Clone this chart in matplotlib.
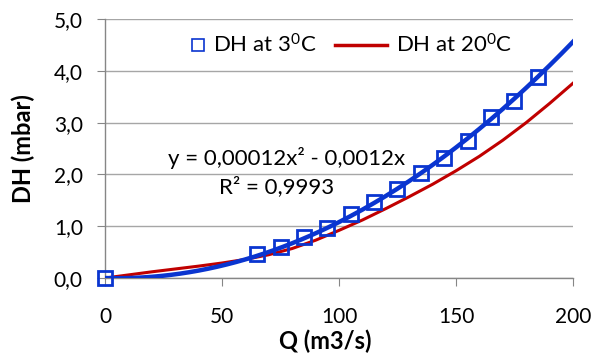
import numpy as np
import matplotlib
matplotlib.use("Agg")
import matplotlib.pyplot as plt
from matplotlib.lines import Line2D

plt.rcParams['font.family'] = ['Lato', 'DejaVu Sans']
plt.rcParams['mathtext.fontset'] = 'custom'
plt.rcParams['mathtext.rm'] = 'Lato'
plt.rcParams['mathtext.it'] = 'Lato'

# measured points at 3 C
q_3 = [0, 65, 75, 85, 95, 105, 115, 125, 135, 145, 155, 165, 175, 185]
dh_3 = [0.0, 0.46, 0.60, 0.79, 0.97, 1.23, 1.47, 1.72, 2.02, 2.31, 2.64, 3.11, 3.42, 3.89]

# trendline coefficients as printed on the chart
trend = [0.00012, -0.0012, 0.0]

# curve at 20 C
q_20 = [0, 10, 20, 30, 40, 50, 60, 70, 80, 90, 100,
        110, 120, 130, 140, 150, 160, 170, 180, 190, 200]
dh_20 = [0.0, 0.06, 0.12, 0.175, 0.23, 0.29, 0.36, 0.45, 0.57, 0.73, 0.92,
         1.12, 1.34, 1.57, 1.81, 2.07, 2.35, 2.66, 3.00, 3.37, 3.76]

blue = '#0A35D0'
red = '#C00000'
grid_c = '#A6A6A6'
fs = 16

fig = plt.figure(figsize=(5.95, 3.56), dpi=100)
ax = fig.add_axes([0.1765, 0.219, 0.7865, 0.7276])

xs = np.linspace(0, 200, 201)
ax.plot(xs, np.polyval(trend, xs), color=blue, lw=3.2, zorder=3)
ax.plot(q_20, dh_20, color=red, lw=2.2, zorder=2)
ax.plot(q_3, dh_3, ls='none', marker='s', ms=9.8, mfc='none', mec=blue,
        mew=2.0, zorder=4, clip_on=False)

ax.set_xlim(0, 200)
ax.set_ylim(0, 5)
ax.set_xticks([0, 50, 100, 150, 200])
ax.set_yticks([0, 1, 2, 3, 4, 5])
ax.set_yticklabels(['0,0', '1,0', '2,0', '3,0', '4,0', '5,0'])
ax.grid(axis='y', color=grid_c, lw=1)
ax.set_axisbelow(True)
for s in ['top', 'right']:
    ax.spines[s].set_visible(False)
for s in ['left', 'bottom']:
    ax.spines[s].set_color('#868686')
    ax.spines[s].set_linewidth(1)
ax.tick_params(axis='both', length=6, color='#868686', labelsize=15)
ax.tick_params(axis='y', pad=10)
ax.tick_params(axis='x', pad=15)

ax.set_xlabel('Q (m3/s)', fontsize=17, fontweight='bold')
ax.set_ylabel('DH (mbar)', fontsize=17, fontweight='bold')
ax.xaxis.set_label_coords(0.471, -0.2)
ax.yaxis.set_label_coords(-0.15, 0.5)

ax.text(0.389, 0.463, 'y = 0,00012x² - 0,0012x', transform=ax.transAxes,
        fontsize=fs, ha='center', va='center')
ax.text(0.366, 0.351, 'R² = 0,9993', transform=ax.transAxes,
        fontsize=fs, ha='center', va='center')

h1 = Line2D([], [], ls='none', marker='s', ms=9, mfc='none', mec=blue, mew=1.2)
h2 = Line2D([], [], color=red, lw=2.5)
leg1 = ax.legend([h1], ['DH at 3$^{0}$C'], loc='center left',
                 bbox_to_anchor=(0.18, 0.9), frameon=False, fontsize=fs,
                 handlelength=0.8, handletextpad=0.25, borderpad=0,
                 borderaxespad=0)
ax.add_artist(leg1)
ax.legend([h2], ['DH at 20$^{0}$C'], loc='center left',
          bbox_to_anchor=(0.4915, 0.9), frameon=False, fontsize=fs,
          handlelength=2.34, handletextpad=0.4, borderpad=0, borderaxespad=0)

fig.savefig('out.png', dpi=100)
